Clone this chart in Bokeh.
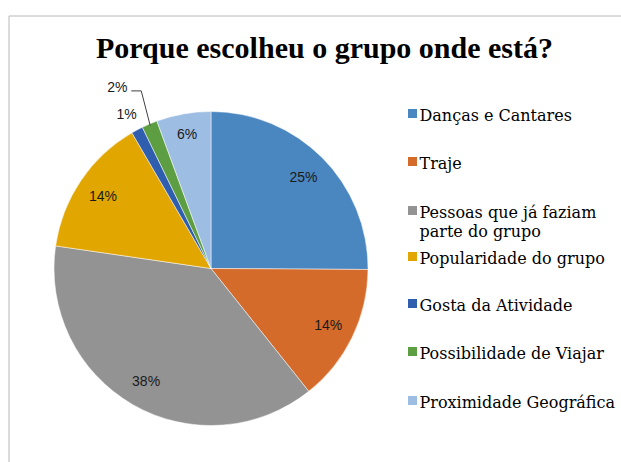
import math
from bokeh.plotting import figure
from bokeh.models import Range1d, ColumnDataSource
from bokeh.core.properties import value
from bokeh.embed import file_html
from bokeh.resources import INLINE

title = "Porque escolheu o grupo onde está?"
categories = ["Danças e Cantares", "Traje", "Pessoas que já faziam\nparte do grupo",
              "Popularidade do grupo", "Gosta da Atividade", "Possibilidade de Viajar",
              "Proximidade Geográfica"]
percent = [25.1, 14.2, 38.0, 14.3, 1.2, 1.6, 5.6]
labels = ["25%", "14%", "38%", "14%", "1%", "2%", "6%"]
colors = ["#4A86C0", "#D46B2B", "#939393", "#E2A600", "#2F5EAE", "#5E9E43", "#9DBDE3"]

W, H = 621, 462
p = figure(width=W, height=H, output_backend="svg", toolbar_location=None,
           x_range=Range1d(0, W), y_range=Range1d(0, H), min_border=0)
p.axis.visible = False
p.grid.visible = False
p.outline_line_color = None
p.background_fill_color = "white"
p.border_fill_color = "white"

# chart-area frame (partially visible)
p.line([8.5, 8.5, W], [0, 446.5, 446.5], line_color="#B8B8B8", line_width=1)

cx, cy, R = 210.5, 194.0, 157.0
total = float(sum(percent))
starts, ends, mids = [], [], []
cum = 0.0
for v in percent:
    a0 = cum / total
    cum += v
    a1 = cum / total
    starts.append(math.pi / 2 - 2 * math.pi * a0)
    ends.append(math.pi / 2 - 2 * math.pi * a1)
    mids.append(math.pi / 2 - 2 * math.pi * (a0 + a1) / 2)

src = ColumnDataSource(dict(start=starts, end=ends, color=colors))
p.wedge(x=cx, y=cy, radius=R, start_angle="start", end_angle="end", direction="clock",
        fill_color="color", line_color="white", line_width=0.5, source=src)

# data labels
lx, ly, ltxt = [], [], []
for i, (m, t) in enumerate(zip(mids, labels)):
    if percent[i] >= 10:
        f, off = 0.83, 0.0
    elif percent[i] >= 5:
        f, off = 0.87, 0.0
    elif percent[i] < 1.5:
        f, off = 1.12, math.radians(0.6)
    else:
        f, off = 1.30, math.radians(4.3)
    a = m + off
    x = cx + f * R * math.cos(a)
    y = cy + f * R * math.sin(a)
    lx.append(x); ly.append(y); ltxt.append(t)
    if f > 1.2:
        ex = cx + 0.99 * R * math.cos(m)
        ey = cy + 0.99 * R * math.sin(m)
        p.line([x + 14, x + 24, ex], [y - 3.7, y - 3.7, ey], line_color="#404040", line_width=1)
p.text(x=lx, y=ly, text=ltxt, text_font=value("Liberation Sans"), text_font_size="14px",
       text_align="center", text_baseline="middle", text_color="#1a1a1a")

# title
p.text(x=[324], y=[415], text=[title], text_font=value("Liberation Serif"), text_font_size="30px",
       text_font_style="bold", text_align="center", text_baseline="alphabetic", text_color="black")

# legend
row_y = [347, 299, 250, 204, 157, 109, 60]
sq_x, tx = 412, 419
p.rect(x=[sq_x] * len(colors), y=[r + 2 for r in row_y], width=9, height=9,
       fill_color=colors, line_color=None)
for i, c in enumerate(categories):
    lines = c.split("\n")
    for j, ln in enumerate(lines):
        p.text(x=[tx], y=[row_y[i] - j * 19], text=[ln], text_font=value("DejaVu Serif"),
               text_font_size="16px", text_align="left", text_baseline="middle",
               text_color="black")

open("out.html", "w").write(file_html(p, INLINE))
